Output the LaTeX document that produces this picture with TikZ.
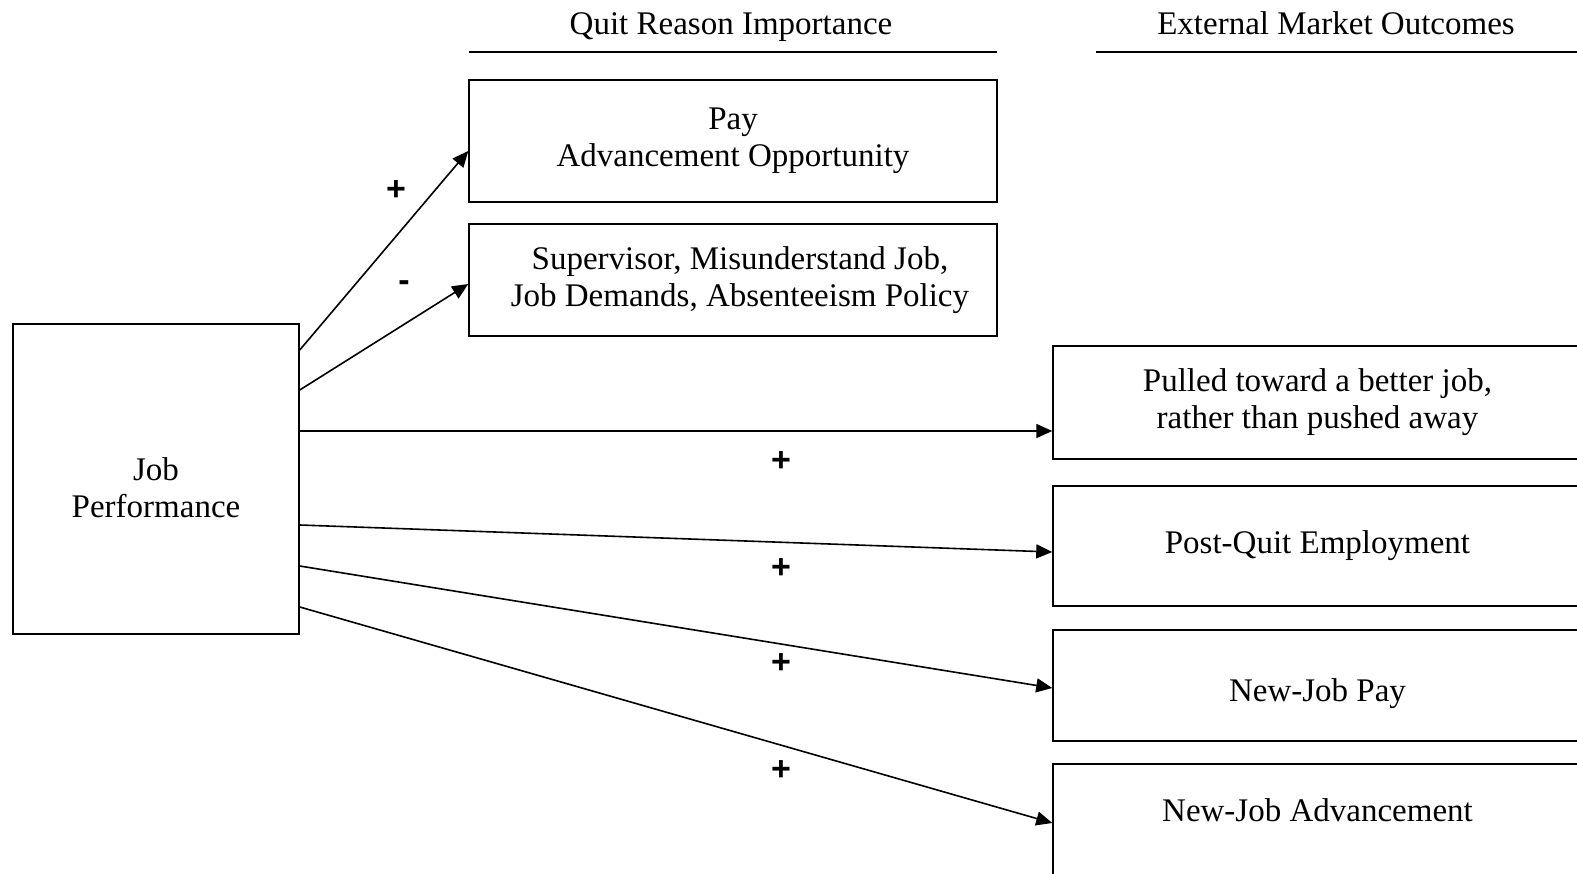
\documentclass[tikz,border=0pt]{standalone}
\usepackage{fontspec}
\setmainfont{Liberation Serif}
\newfontfamily\signfont{Liberation Sans}
\usetikzlibrary{arrows.meta}
\tikzset{
  box/.style={draw, line width=1.5pt, rectangle, inner sep=0pt, align=center,
    font=\fontsize{33}{37}\selectfont},
  head/.style={font=\fontsize{33}{37}\selectfont, inner sep=0pt, align=center},
  sign/.style={font=\signfont\bfseries\fontsize{34}{34}\selectfont, inner sep=0pt},
  arr/.style={line width=1.6pt, -{Triangle[length=16pt,width=14pt]}},
  rule/.style={line width=1.5pt}
}
\begin{document}
\begin{tikzpicture}[x=1pt,y=-1pt]
\useasboundingbox (0,0) rectangle (1577,874);
% headers
\node[head, anchor=base] (h1) at (731,35) {Quit Reason Importance};
\node[head, anchor=base] (h2) at (1336,35) {External Market Outcomes};
\coordinate (l1a) at (469,52); \coordinate (l1b) at (997,52);
\coordinate (l2a) at (1096,52); \coordinate (l2b) at (1590,52);
\draw[rule] (l1a) -- (l1b);
\draw[rule] (l2a) -- (l2b);
% left box
\node[box, minimum width=286pt, minimum height=310pt] (jp) at (156,479) {};
\node[head] (jpt) at (156,488) {Job\\Performance};
% quit reason boxes
\node[box, minimum width=528pt, minimum height=122pt] (pay) at (733,141) {Pay\\Advancement Opportunity};
\node[box, minimum width=528pt, minimum height=112pt] (sup) at (733,280) {\hspace*{14pt}Supervisor, Misunderstand Job,\\\hspace*{14pt}Job Demands, Absenteeism Policy};
% outcome boxes
\node[box, minimum width=529pt, minimum height=113pt] (pull) at (1317.5,402.5) {Pulled toward a better job,\\rather than pushed away};
\node[box, minimum width=529pt, minimum height=120pt] (post) at (1317.5,546) {Post-Quit Employment};
\node[box, minimum width=529pt, minimum height=111pt] (npay) at (1317.5,685.5) {};
\node[head] (npayt) at (1317.5,694) {New-Job Pay};
\node[box, minimum width=529pt, minimum height=120pt] (nadv) at (1317.5,824) {};
\node[head] (nadvt) at (1317.5,810) {New-Job Advancement};
% arrows
\draw[arr] (jp.east |- 0,350) -- (pay.west |- 0,151);
\draw[arr] (jp.east |- 0,390) -- (sup.west |- 0,284);
\draw[arr] (jp.east |- 0,431) -- (pull.west |- 0,431);
\draw[arr] (jp.east |- 0,525) -- (post.west |- 0,552);
\draw[arr] (jp.east |- 0,566) -- (npay.west |- 0,688);
\draw[arr] (jp.east |- 0,607) -- (nadv.west |- 0,823);
% signs
\node[sign] (s1) at (396,191) {+};
\node[sign] (s2) at (404,286) {-};
\node[sign] (s3) at (781,462) {+};
\node[sign] (s4) at (781,569) {+};
\node[sign] (s5) at (781,664) {+};
\node[sign] (s6) at (781,771) {+};
\end{tikzpicture}
\end{document}
